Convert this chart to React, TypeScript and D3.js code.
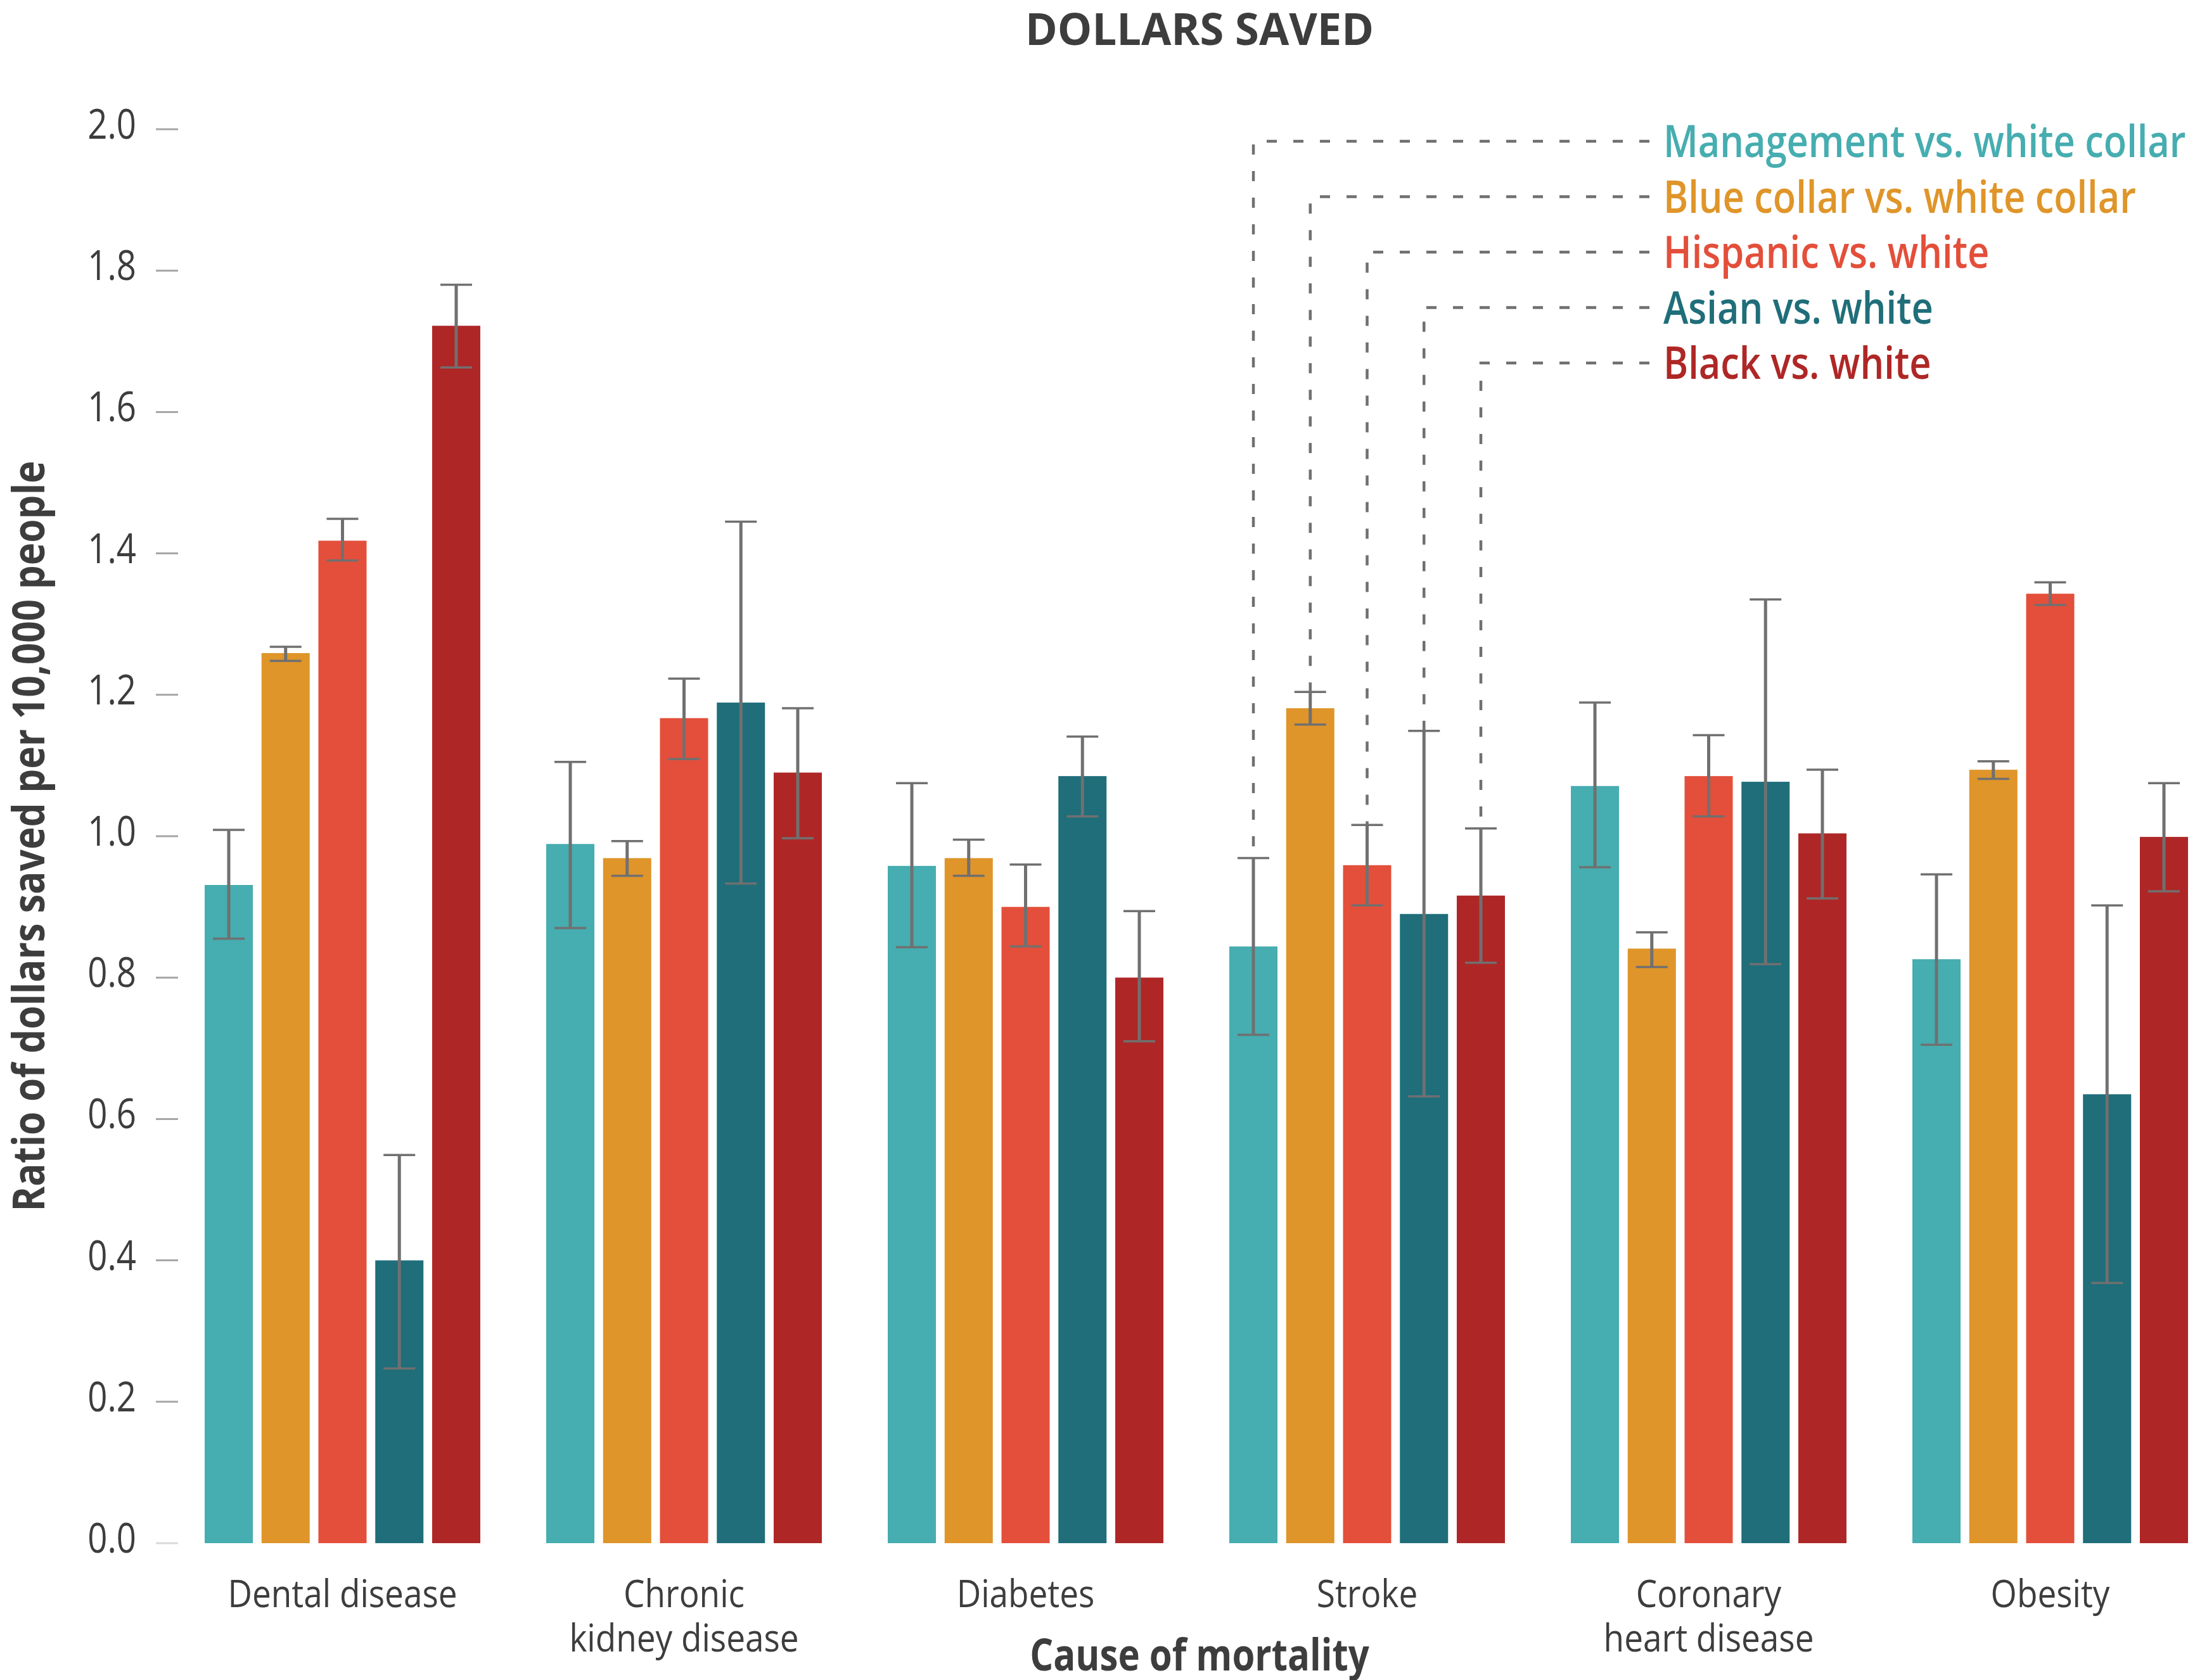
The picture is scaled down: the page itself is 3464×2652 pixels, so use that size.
import React from "react";
import * as d3 from "d3";

// ---------- data ----------
const categories = ["Dental disease", "Chronic\nkidney disease", "Diabetes", "Stroke", "Coronary\nheart disease", "Obesity"];
const seriesNames = [
  "Management vs. white collar",
  "Blue collar vs. white collar",
  "Hispanic vs. white",
  "Asian vs. white",
  "Black vs. white",
];
const seriesColors = ["#46adb0", "#df9529", "#e34f3a", "#1f6e7a", "#ae2726"];

const mgmt = [0.931, 0.989, 0.958, 0.844, 1.071, 0.826];
const mgmtLo = [0.855, 0.870, 0.843, 0.719, 0.956, 0.705];
const mgmtHi = [1.009, 1.105, 1.075, 0.969, 1.189, 0.946];
const blue = [1.259, 0.969, 0.969, 1.181, 0.841, 1.094];
const blueLo = [1.248, 0.944, 0.944, 1.158, 0.815, 1.081];
const blueHi = [1.268, 0.993, 0.995, 1.204, 0.864, 1.106];
const hisp = [1.418, 1.167, 0.900, 0.959, 1.085, 1.343];
const hispLo = [1.390, 1.109, 0.844, 0.902, 1.028, 1.327];
const hispHi = [1.449, 1.223, 0.960, 1.016, 1.143, 1.359];
const asian = [0.400, 1.189, 1.085, 0.890, 1.077, 0.635];
const asianLo = [0.247, 0.933, 1.028, 0.632, 0.819, 0.368];
const asianHi = [0.549, 1.445, 1.141, 1.149, 1.335, 0.902];
const black = [1.722, 1.090, 0.800, 0.916, 1.004, 0.999];
const blackLo = [1.663, 0.997, 0.710, 0.821, 0.912, 0.922];
const blackHi = [1.780, 1.181, 0.894, 1.011, 1.094, 1.075];

const yTicks = [0, 0.2, 0.4, 0.6, 0.8, 1.0, 1.2, 1.4, 1.6, 1.8, 2.0];
const legendCategory = "Stroke";

const title = "DOLLARS SAVED";
const yTitle = "Ratio of dollars saved per 10,000 people";
const xTitle = "Cause of mortality";

// ---------- layout ----------
const W = 3464;
const H = 2652;
const FONT = "'Open Sans', 'Noto Sans', sans-serif";
const TEXT = "#3d3d3d";
const ERR = "#707070";

export default function App() {
  const values = [mgmt, blue, hisp, asian, black];
  const los = [mgmtLo, blueLo, hispLo, asianLo, blackLo];
  const his = [mgmtHi, blueHi, hispHi, asianHi, blackHi];

  const y = d3.scaleLinear().domain([0, 2]).range([2436, 204]);
  const x0 = d3.scaleBand<string>().domain(categories).range([323, 3453]).paddingInner(0.193).paddingOuter(0);
  const x1 = d3.scaleBand<string>().domain(seriesNames).range([0, x0.bandwidth()]).paddingInner(0.153).paddingOuter(0);
  const bw = x1.bandwidth();
  const capW = 50;

  const legendY0 = 223;
  const legendStep = 87.5;
  const legendTextX = 2625;
  const legendLineEnd = 2603;
  const li = categories.indexOf(legendCategory);

  const sx = 0.885;

  return (
    <svg width={W} height={H} style={{ position: "absolute", left: 0, top: 0, background: "#fff" }} fontFamily={FONT}>
      {/* title */}
      <text transform={`translate(1893,71) scale(0.98,1)`} textAnchor="middle" fontSize={70} fontWeight={700} fill={TEXT}>
        {title}
      </text>

      {/* y ticks */}
      {yTicks.map((t, i) => (
        <g key={i}>
          <line x1={246} x2={281} y1={y(t)} y2={y(t)} stroke={t === 0 ? "#d9d9d9" : "#a6a6a6"} strokeWidth={3} />
          <text transform={`translate(215,${y(t) + 15}) scale(0.84,1)`} textAnchor="end" fontSize={65} fill={TEXT}>
            {d3.format(".1f")(t)}
          </text>
        </g>
      ))}

      {/* y title */}
      <text transform={`translate(70,1320) rotate(-90) scale(0.86,1)`} textAnchor="middle" fontSize={70} fontWeight={700} fill={TEXT}>
        {yTitle}
      </text>

      {/* bars */}
      {categories.map((c, ci) => (
        <g key={c} transform={`translate(${x0(c)},0)`}>
          {seriesNames.map((s, si) => {
            const v = values[si][ci];
            const bx = x1(s)!;
            const cx = bx + bw / 2;
            return (
              <g key={s}>
                <rect x={bx} y={y(v)} width={bw} height={y(0) - y(v)} fill={seriesColors[si]} />
                <line x1={cx} x2={cx} y1={y(his[si][ci])} y2={y(los[si][ci])} stroke={ERR} strokeWidth={5} />
                <line x1={cx - capW / 2} x2={cx + capW / 2} y1={y(his[si][ci])} y2={y(his[si][ci])} stroke={ERR} strokeWidth={3.5} />
                <line x1={cx - capW / 2} x2={cx + capW / 2} y1={y(los[si][ci])} y2={y(los[si][ci])} stroke={ERR} strokeWidth={3.5} />
              </g>
            );
          })}
        </g>
      ))}

      {/* category labels */}
      {categories.map((c) => {
        const lines = c.split("\n");
        const cx = x0(c)! + x0.bandwidth() / 2;
        return (
          <text key={c} transform={`translate(${cx},2537) scale(${sx},1)`} textAnchor="middle" fontSize={60} fill={TEXT}>
            {lines.map((ln, k) => (
              <tspan key={k} x={0} dy={k === 0 ? 0 : 70}>
                {ln}
              </tspan>
            ))}
          </text>
        );
      })}

      {/* x title */}
      <text transform={`translate(1893,2637) scale(0.83,1)`} textAnchor="middle" fontSize={70} fontWeight={700} fill={TEXT}>
        {xTitle}
      </text>

      {/* legend with leader lines */}
      {seriesNames.map((s, si) => {
        const ly = legendY0 + si * legendStep;
        const cx = x0(legendCategory)! + x1(s)! + bw / 2;
        const topY = y(his[si][li]);
        return (
          <g key={s}>
            <path
              d={`M${legendLineEnd},${ly} H${cx} V${topY}`}
              fill="none"
              stroke={ERR}
              strokeWidth={4.5}
              strokeDasharray="16 26"
            />
            <text transform={`translate(${legendTextX},${ly + 25}) scale(0.85,1)`} fontSize={70} fontWeight={600} fill={seriesColors[si]}>
              {s}
            </text>
          </g>
        );
      })}
    </svg>
  );
}
